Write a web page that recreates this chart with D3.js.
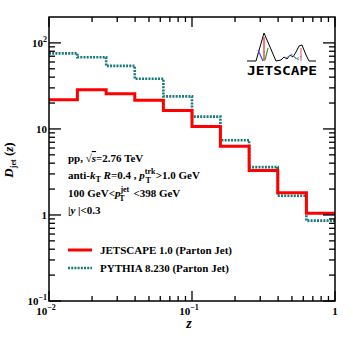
<!DOCTYPE html>
<html>
<head>
<meta charset="utf-8">
<script src="https://cdn.jsdelivr.net/npm/d3@7"></script>
<style>
  body { margin: 0; background: #fff; }
  text { font-family: "Liberation Serif", "Times New Roman", serif; font-weight: bold; }
</style>
</head>
<body>
<div id="chart"></div>
<script>
// bin edges in z and the two histograms
var zEdges = [0.01, 0.0158, 0.0251, 0.0398, 0.0631, 0.1, 0.158, 0.251, 0.398, 0.631, 1.0];
var jetscape = [21.9, 28.6, 25.7, 21.5, 16.4, 10.7, 6.3, 3.29, 1.81, 1.05];
var pythia = [75.5, 68, 54, 38.3, 23.9, 13.9, 7.4, 3.6, 1.67, 0.86];

var xMajor = [0.01, 0.1, 1];
var xMajorLabels = ["10", "10", "1"];
var xMajorExp = ["\u22122", "\u22121", ""];
var yMajor = [0.1, 1, 10, 100];
var yMajorLabels = ["10", "1", "10", "10"];
var yMajorExp = ["\u22121", "", "", "2"];

var W = 353, H = 339;
var margin = {top: 17, right: 18, bottom: 38, left: 49},
    width = W - margin.left - margin.right,
    height = H - margin.top - margin.bottom;

var svg = d3.select("#chart")
    .append("svg")
    .attr("width", W)
    .attr("height", H);

var g = svg.append("g")
    .attr("transform", "translate(" + margin.left + "," + margin.top + ")");

var x = d3.scaleLog().domain([0.01, 1]).range([0, width]);
var y = d3.scaleLog().domain([0.1, 200]).range([height, 0]);

// minor ticks
function minors(lo, hi) {
    var out = [];
    for (var e = Math.floor(Math.log10(lo)); e < Math.ceil(Math.log10(hi)); e++) {
        for (var k = 2; k <= 9; k++) {
            var v = k * Math.pow(10, e);
            if (v > lo && v < hi) out.push(v);
        }
    }
    return out;
}
var xMinor = minors(0.01, 1);
var yMinor = minors(0.1, 200);

g.append("defs").append("clipPath").attr("id", "clip")
    .append("rect").attr("width", width).attr("height", height);

// histograms
function stepData(vals) {
    var pts = vals.map(function(v, i) { return [zEdges[i], v]; });
    pts.push([zEdges[zEdges.length - 1], vals[vals.length - 1]]);
    return pts;
}
var line = d3.line()
    .x(function(d) { return x(d[0]); })
    .y(function(d) { return y(d[1]); })
    .curve(d3.curveStepAfter);

g.append("path")
    .datum(stepData(pythia))
    .attr("clip-path", "url(#clip)")
    .attr("fill", "none")
    .attr("stroke", "#177a7a")
    .attr("stroke-width", 2.6)
    .attr("stroke-dasharray", "2,1.2")
    .attr("d", line);

g.append("path")
    .datum(stepData(jetscape))
    .attr("clip-path", "url(#clip)")
    .attr("fill", "none")
    .attr("stroke", "#ff0000")
    .attr("stroke-width", 3)
    .attr("d", line);

// frame
g.append("rect")
    .attr("width", width).attr("height", height)
    .attr("fill", "none").attr("stroke", "#000").attr("stroke-width", 1.5);

// ticks (ROOT style: inward, on all four sides)
var tk = g.append("g").attr("stroke", "#000").attr("stroke-width", 1.3);
xMajor.concat(xMinor).forEach(function(v) {
    var len = xMajor.indexOf(v) >= 0 ? 10 : 5;
    tk.append("line").attr("x1", x(v)).attr("x2", x(v)).attr("y1", height).attr("y2", height - len);
    tk.append("line").attr("x1", x(v)).attr("x2", x(v)).attr("y1", 0).attr("y2", len);
});
yMajor.concat(yMinor).forEach(function(v) {
    var len = yMajor.indexOf(v) >= 0 ? 12 : 6;
    tk.append("line").attr("y1", y(v)).attr("y2", y(v)).attr("x1", 0).attr("x2", len);
    tk.append("line").attr("y1", y(v)).attr("y2", y(v)).attr("x1", width).attr("x2", width - len);
});

// tick labels
xMajor.forEach(function(v, i) {
    var t = g.append("text")
        .attr("x", x(v) + (xMajorExp[i] ? -3 : 0))
        .attr("y", height + 14)
        .attr("text-anchor", "middle")
        .style("font-size", "11px");
    t.append("tspan").text(xMajorLabels[i]);
    if (xMajorExp[i]) t.append("tspan").attr("dy", -5).style("font-size", "8px").text(xMajorExp[i]);
});
yMajor.forEach(function(v, i) {
    var t = g.append("text")
        .attr("x", -2)
        .attr("y", y(v) + 4)
        .attr("text-anchor", "end")
        .style("font-size", "11px");
    t.append("tspan").text(yMajorLabels[i]);
    if (yMajorExp[i]) t.append("tspan").attr("dy", -5).style("font-size", "8px").text(yMajorExp[i]);
});

// axis titles
svg.append("text")
    .attr("x", 189).attr("y", 328)
    .attr("text-anchor", "middle")
    .style("font-size", "14px").style("font-style", "italic")
    .text("z");

var yt = svg.append("text")
    .attr("transform", "translate(13,160) rotate(-90)")
    .attr("text-anchor", "middle")
    .style("font-size", "13px");
yt.append("tspan").style("font-style", "italic").text("D");
yt.append("tspan").attr("dy", 3).style("font-size", "8px").text("jet");
yt.append("tspan").attr("dy", -3).text(" (");
yt.append("tspan").style("font-style", "italic").text("z");
yt.append("tspan").text(")");

// info text
var info = svg.append("g").style("font-size", "11px");
var t1 = info.append("text").attr("x", 68).attr("y", 162);
t1.append("tspan").text("pp,  \u221A");
t1.append("tspan").style("font-style", "italic").style("text-decoration", "overline").text("s");
t1.append("tspan").text("=2.76 TeV");

var t2 = info.append("text").attr("x", 68).attr("y", 179);
t2.append("tspan").text("anti-");
t2.append("tspan").style("font-style", "italic").text("k");
t2.append("tspan").attr("dy", 3).style("font-size", "8px").text("T");
t2.append("tspan").attr("dy", -3).text("  ");
t2.append("tspan").style("font-style", "italic").text("R");
t2.append("tspan").text("=0.4 , ");
t2.append("tspan").style("font-style", "italic").text("p");
t2.append("tspan").attr("dy", -5).style("font-size", "8px").text("trk");
t2.append("tspan").attr("dx", -10).attr("dy", 9).style("font-size", "8px").text("T");
t2.append("tspan").attr("dx", 5).attr("dy", -4).text(">1.0 GeV");

var t3 = info.append("text").attr("x", 68).attr("y", 197);
t3.append("tspan").text("100 GeV<");
t3.append("tspan").style("font-style", "italic").text("p");
t3.append("tspan").attr("dy", -5).style("font-size", "8px").text("jet");
t3.append("tspan").attr("dx", -10).attr("dy", 9).style("font-size", "8px").text("T");
t3.append("tspan").attr("dx", 6).attr("dy", -4).text(" <398 GeV");

var t4 = info.append("text").attr("x", 68).attr("y", 214);
t4.append("tspan").text("|");
t4.append("tspan").style("font-style", "italic").text("y");
t4.append("tspan").text(" |<0.3");

// legend
var legend = [
    {name: "JETSCAPE 1.0 (Parton Jet)", color: "#ff0000", dash: null, w: 3},
    {name: "PYTHIA 8.230 (Parton Jet)", color: "#177a7a", dash: "2,1.2", w: 2.6}
];
legend.forEach(function(d, i) {
    var ly = 250 + i * 18;
    svg.append("line")
        .attr("x1", 68).attr("x2", 92).attr("y1", ly).attr("y2", ly)
        .attr("stroke", d.color).attr("stroke-width", d.w)
        .attr("stroke-dasharray", d.dash);
    svg.append("text").attr("x", 100).attr("y", ly + 4)
        .style("font-size", "11px").text(d.name);
});

// JETSCAPE logo
var logo = svg.append("g");
logo.append("path")
    .attr("d", "M247,61 L256,61 L264,33 L276,61 L281,60 L284,57 L287,59 L290,55 L293,57 L296,52 L299,46 L302,45 L306,55 L309,61 L316,61")
    .attr("fill", "none").attr("stroke", "#000").attr("stroke-width", 1);
logo.append("line").attr("x1", 264).attr("y1", 37).attr("x2", 264).attr("y2", 61)
    .attr("stroke", "#e02020").attr("stroke-width", 1.2);
logo.append("line").attr("x1", 258).attr("y1", 50).attr("x2", 263).attr("y2", 61)
    .attr("stroke", "#3050e0").attr("stroke-width", 1.2);
logo.append("line").attr("x1", 268).attr("y1", 48).attr("x2", 265).attr("y2", 60)
    .attr("stroke", "#30a030").attr("stroke-width", 1.2);
logo.append("line").attr("x1", 301).attr("y1", 48).attr("x2", 301).attr("y2", 61)
    .attr("stroke", "#e07070").attr("stroke-width", 1.2);
logo.append("line").attr("x1", 293).attr("y1", 56).attr("x2", 299).attr("y2", 60)
    .attr("stroke", "#30a030").attr("stroke-width", 1);
logo.append("path").attr("d", "M286,58 L292,54 L296,59 L302,56")
    .attr("fill", "none").attr("stroke", "#6080f0").attr("stroke-width", 1).attr("stroke-dasharray", "2,1");
logo.append("text")
    .attr("x", 282).attr("y", 75)
    .attr("text-anchor", "middle")
    .attr("textLength", 70)
    .attr("lengthAdjust", "spacingAndGlyphs")
    .style("font-family", "'DejaVu Sans Mono', monospace")
    .style("font-size", "13px")
    .style("font-weight", "bold")
    .text("JETSCAPE");
</script>
</body>
</html>
